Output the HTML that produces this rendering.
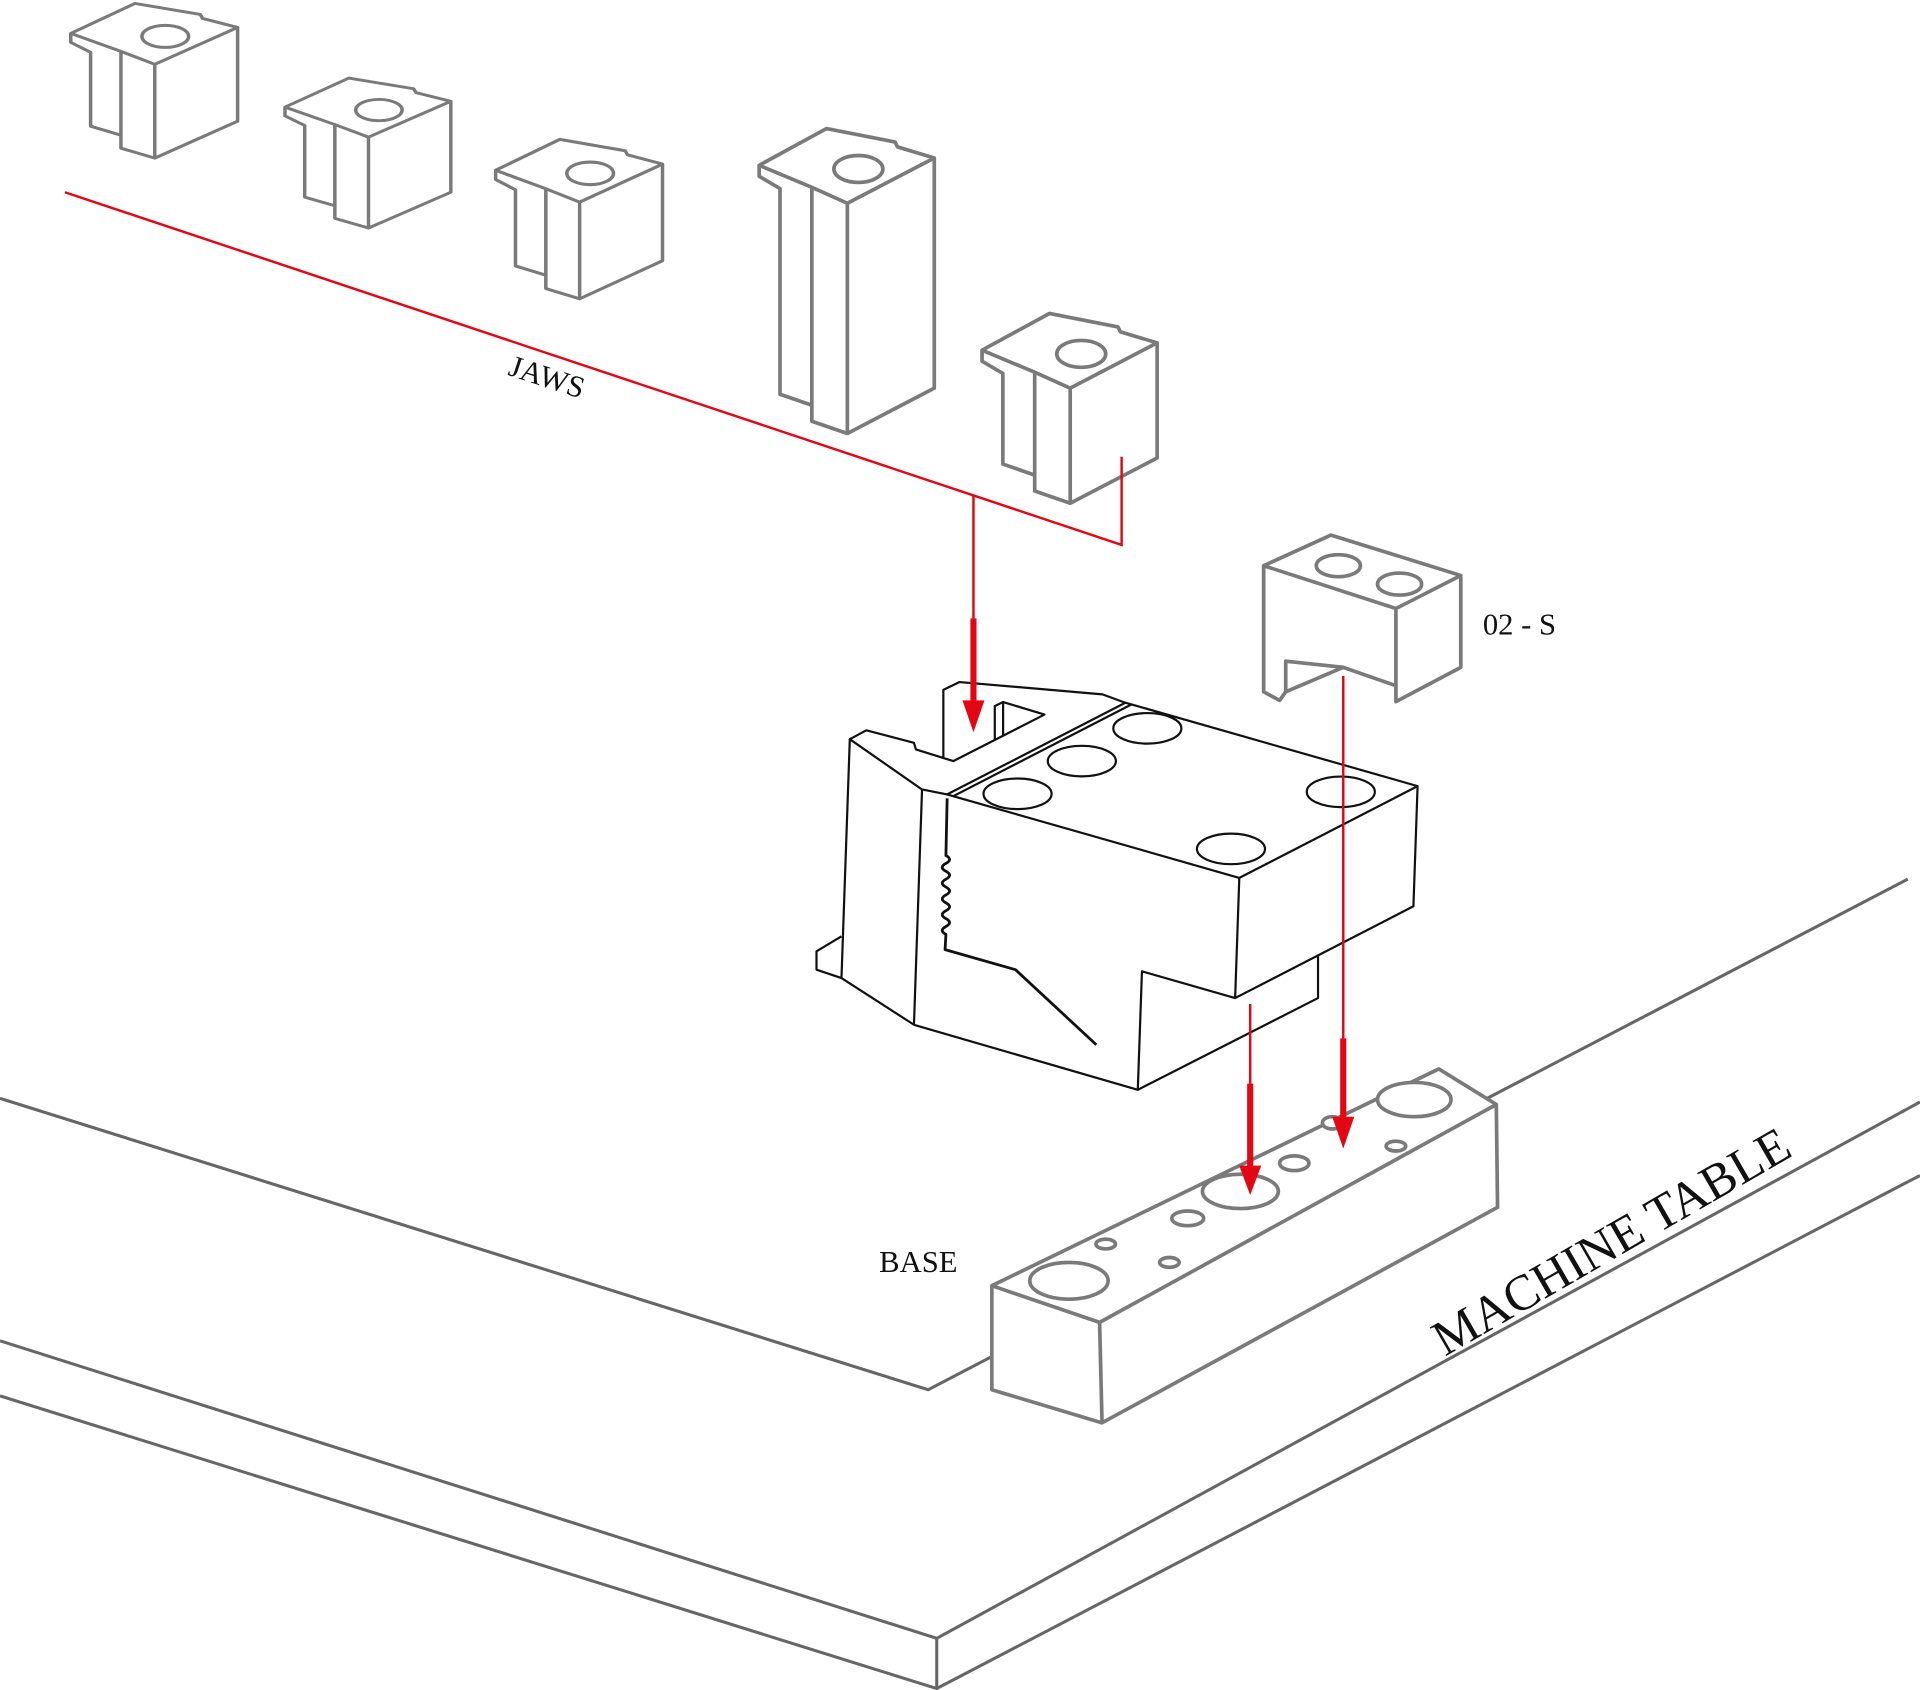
<!DOCTYPE html>
<html><head><meta charset="utf-8"><style>
html,body{margin:0;padding:0;background:#fff;width:1920px;height:1690px;overflow:hidden}
svg{display:block}
text{font-family:"Liberation Serif",serif;fill:#111}
</style></head><body>
<svg width="1920" height="1690" viewBox="0 0 1568 1380.2" xmlns="http://www.w3.org/2000/svg">
<defs>
<g id="jaw" fill="none" stroke="#7a7a7a" stroke-width="3" stroke-linejoin="round">
<path d="M5,31 L60,1 L116,12 L118,16 L148,25 L148,119 L77,156 L48,146 L48,133 L22,124 L22,50 L5,40 Z"/>
<path d="M5,31 L48,49 L77,62 L148,25 M77,62 L77,156 M48,49 L48,133"/>
<ellipse cx="86" cy="34" rx="20" ry="11"/>
</g>
<g id="jawtall" fill="none" stroke="#7a7a7a" stroke-width="3" stroke-linejoin="round">
<path d="M5,31 L60,1 L116,12 L118,16 L148,25 L148,213 L77,250 L48,240 L48,227 L22,218 L22,50 L5,40 Z"/>
<path d="M5,31 L48,49 L77,62 L148,25 M77,62 L77,250 M48,49 L48,227"/>
<ellipse cx="86" cy="34" rx="20" ry="11"/>
</g>
</defs>

<!-- machine table -->
<g fill="none" stroke="#666" stroke-width="2.5">
<path d="M0,897 L758,1135 L1558,718"/>
<path d="M0,1095 L765,1338 L1568,900"/>
<path d="M0,1140 L765,1379 L1568,960"/>
<path d="M765,1338 L765,1379"/>
</g>

<!-- jaws -->
<use href="#jaw" transform="translate(53,2) scale(0.953,0.815)"/>
<use href="#jaw" transform="translate(228,63) scale(0.947,0.79)"/>
<use href="#jaw" transform="translate(400,113) scale(0.953,0.84)"/>
<use href="#jawtall" transform="translate(615,104)"/>
<use href="#jaw" transform="translate(797,255)"/>

<!-- 02-S -->
<g fill="none" stroke="#7a7a7a" stroke-width="3" stroke-linejoin="round">
<path d="M1032,462 L1087,437 L1193,470 L1193,545 L1140,573 L1140,560 L1097,545 L1050,565 L1045,572 L1032,565 Z"/>
<path d="M1032,462 L1140,497 L1193,470 M1140,497 L1140,560 M1050,565 L1050,540 L1097,545"/>
<ellipse cx="1093" cy="462" rx="18" ry="9"/>
<ellipse cx="1143" cy="477" rx="18" ry="9"/>
</g>

<!-- base -->
<g fill="#fff" stroke="#7a7a7a" stroke-width="3" stroke-linejoin="round">
<path d="M810,1050 L1175,873 L1222,902 L1223,986 L900,1162 L810,1135 Z"/>
<path d="M810,1050 L898,1080 L1222,902 M898,1080 L900,1162" fill="none"/>
<ellipse cx="1155" cy="898" rx="30" ry="14"/>
<ellipse cx="1013" cy="973" rx="31" ry="14"/>
<ellipse cx="873" cy="1046" rx="32" ry="15"/>
<ellipse cx="1057" cy="950" rx="12" ry="6"/>
<ellipse cx="970" cy="995" rx="13" ry="6"/>
<ellipse cx="1088" cy="917" rx="8" ry="5"/>
<ellipse cx="1140" cy="936" rx="8" ry="4"/>
<ellipse cx="903" cy="1016" rx="8" ry="4"/>
<ellipse cx="955" cy="1031" rx="8" ry="4"/>
</g>

<!-- fixture -->
<g transform="matrix(1,0,0,0.805,0,104.6)" fill="none" stroke="#111" stroke-width="2.2" stroke-linejoin="round">
<g vector-effect="non-scaling-stroke">
<path vector-effect="non-scaling-stroke" d="M770.4,640 L770.4,570 L783.6,562 L900.4,574.5 L919,583 L773.5,676 L753,671 L694,620 L707.5,611 L746.4,623.6 L748,630.4 L778.5,642.2 L853,595 L819.2,582.3 L812.4,586.4 L812.4,620"/>
<path vector-effect="non-scaling-stroke" d="M919,583 L924.1,584.7 L778.5,677.8 L773.5,676 M819.2,582.3 L819.2,617"/>
<path vector-effect="non-scaling-stroke" d="M694,620 L687.2,862.3 M687.2,820 L666.8,835.2 L666.8,853.8 L687.2,862.3 L746.4,909.7 L753,671"/>
<path vector-effect="non-scaling-stroke" d="M746.4,909.7 L929.2,975.7 L932.6,855.5 L1008.7,882.6 L1012.1,760.7 L778.5,677.8 M924.1,584.7 L1157.7,667.6 L1154.3,789.5 L1008.7,882.6 M1012.1,760.7 L1157.7,667.6 M1076.4,840.3 L1076.4,882.6 L929.2,975.7"/>
<path vector-effect="non-scaling-stroke" d="M773.5,680 L772.5,738 q6,4 0,8 q-6,4 0,8 q6,4 0,8 q-6,4 0,8 q6,4 0,8 q-6,4 0,8 q6,4 0,8 q-6,4 0,8 q6,4 0,8 q-6,4 0,8 L771.8,833.5 L829.3,853.8 L895.3,930" stroke-width="2.8"/>
<ellipse vector-effect="non-scaling-stroke" cx="937" cy="609" rx="27.8" ry="15.5"/>
<ellipse vector-effect="non-scaling-stroke" cx="883.5" cy="642.2" rx="27.8" ry="15.5"/>
<ellipse vector-effect="non-scaling-stroke" cx="831" cy="675.4" rx="27.8" ry="15.5"/>
<ellipse vector-effect="non-scaling-stroke" cx="1095" cy="673.4" rx="27.8" ry="15.5"/>
<ellipse vector-effect="non-scaling-stroke" cx="1005.3" cy="731.3" rx="27.8" ry="15.5"/>
</g>
</g>

<!-- red leader lines and arrows -->
<g stroke="#e30613" fill="none">
<path d="M53,157 L916,445 L916,373" stroke-width="2"/>
<path d="M795,405 L795,505" stroke-width="2"/>
<path d="M795,505 L795,575" stroke-width="5"/>
<path d="M1097,552 L1097,848" stroke-width="2"/>
<path d="M1097,848 L1097,915" stroke-width="5"/>
<path d="M1021,820 L1021,885" stroke-width="2"/>
<path d="M1021,885 L1021,955" stroke-width="5"/>
</g>
<g fill="#e30613">
<path d="M786,572 L804,572 L795,598 Z"/>
<path d="M1088,912 L1106,912 L1097,938 Z"/>
<path d="M1012,952 L1030,952 L1021,976 Z"/>
</g>

<text x="414" y="306" font-size="25" transform="rotate(18 414 306)">JAWS</text>
<text x="1211" y="518" font-size="25">02 - S</text>
<text x="718" y="1039" font-size="25">BASE</text>
<text x="1180" y="1108" font-size="41" transform="rotate(-30 1180 1108)">MACHINE TABLE</text>
</svg>
</body></html>
